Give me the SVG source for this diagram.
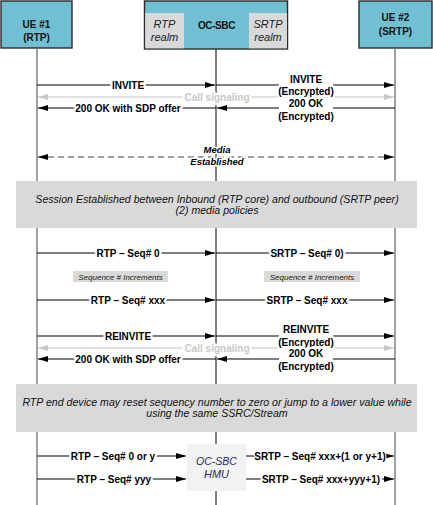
<svg xmlns="http://www.w3.org/2000/svg" width="433" height="505" viewBox="0 0 433 505">
<style>
.hdr{fill:#71bfd2;stroke:#2b2b2b;stroke-width:1.4}
.realm{fill:#d9d9d9}
.t{font-family:"Liberation Sans",Arial,sans-serif}
.hb{font-size:10px;font-weight:bold;fill:#111;text-anchor:middle}
.ri{font-size:11px;font-style:italic;fill:#222;text-anchor:middle}
.lbl{font-size:10px;font-weight:bold;fill:#000;text-anchor:middle;stroke:#fff;stroke-width:4.5;paint-order:stroke;stroke-linejoin:round}
.sig{font-size:10px;font-weight:bold;fill:#c8c8c8;text-anchor:middle;stroke:#fff;stroke-width:4.5;paint-order:stroke;stroke-linejoin:round}
.msg{stroke:#000;stroke-width:1;fill:none}
.sigl{stroke:#c8c8c8;stroke-width:1.2;fill:none}
.dash{stroke:#808080;stroke-width:1.5;stroke-dasharray:6 4;fill:none}
.note{fill:#d9d9d9}
.nt{font-size:10.6px;font-style:italic;fill:#111;text-anchor:middle}
.sm{font-size:8px;font-style:italic;fill:#222;text-anchor:middle}
.me{font-size:9.5px;font-style:italic;font-weight:bold;fill:#000;text-anchor:middle;stroke:#fff;stroke-width:3;paint-order:stroke}
.life{stroke:#6e6e6e;stroke-width:1.3}
</style>
<defs>
<marker id="ah" markerWidth="10" markerHeight="6" refX="10" refY="3" orient="auto" markerUnits="userSpaceOnUse">
<path d="M0,0 L10,3 L0,6 Z" fill="#000"/>
</marker>
<marker id="ahs" markerWidth="10" markerHeight="6" refX="0" refY="3" orient="auto" markerUnits="userSpaceOnUse">
<path d="M10,0 L0,3 L10,6 Z" fill="#000"/>
</marker>
<marker id="gh" markerWidth="10" markerHeight="6" refX="10" refY="3" orient="auto" markerUnits="userSpaceOnUse">
<path d="M0,0 L10,3 L0,6 Z" fill="#c8c8c8"/>
</marker>
<marker id="ghs" markerWidth="10" markerHeight="6" refX="0" refY="3" orient="auto" markerUnits="userSpaceOnUse">
<path d="M10,0 L0,3 L10,6 Z" fill="#c8c8c8"/>
</marker>
</defs>

<g id="lifelines">
<line class="life" x1="37" y1="49" x2="37" y2="505"/>
<line x1="216" y1="49" x2="216" y2="505" stroke="#000" stroke-width="1"/>
<line class="life" x1="395" y1="49" x2="395" y2="505"/>
</g>

<g id="ue1">
<rect class="hdr" x="1" y="1" width="71" height="47"/>
<text class="t hb" x="36.5" y="28">UE #1</text>
<text class="t hb" x="36.5" y="41">(RTP)</text>
</g>

<g id="ocsbc">
<rect class="hdr" x="144.5" y="1" width="143" height="48"/>
<rect class="realm" x="145.2" y="13" width="38.8" height="35.3"/>
<rect class="realm" x="249" y="13" width="38" height="35.3"/>
<text class="t ri" x="164.5" y="28">RTP</text>
<text class="t ri" x="164.5" y="41">realm</text>
<text class="t ri" x="268" y="28">SRTP</text>
<text class="t ri" x="268" y="41">realm</text>
<text class="t hb" x="216.5" y="29" letter-spacing="-0.4">OC-SBC</text>
</g>

<g id="ue2">
<rect class="hdr" x="359" y="1" width="73" height="47"/>
<text class="t hb" x="395.5" y="21">UE #2</text>
<text class="t hb" x="395.5" y="35">(SRTP)</text>
</g>

<g id="connectors">
<line class="msg" x1="37" y1="85" x2="215" y2="85" marker-end="url(#ah)"/>
<line class="msg" x1="216" y1="85" x2="394" y2="85" marker-end="url(#ah)"/>
<line class="sigl" x1="38" y1="97" x2="394" y2="97" marker-start="url(#ghs)" marker-end="url(#gh)"/>
<line class="msg" x1="395" y1="108" x2="217" y2="108" marker-end="url(#ah)"/>
<line class="msg" x1="216" y1="108" x2="38" y2="108" marker-end="url(#ah)"/>
<line class="dash" x1="38" y1="157" x2="394" y2="157" marker-start="url(#ahs)" marker-end="url(#ah)"/>
<line class="msg" x1="37" y1="253" x2="215" y2="253" marker-end="url(#ah)"/>
<line class="msg" x1="216" y1="253" x2="394" y2="253" marker-end="url(#ah)"/>
<line class="msg" x1="37" y1="300" x2="215" y2="300" marker-end="url(#ah)"/>
<line class="msg" x1="216" y1="300" x2="394" y2="300" marker-end="url(#ah)"/>
<line class="msg" x1="37" y1="336" x2="215" y2="336" marker-end="url(#ah)"/>
<line class="msg" x1="216" y1="336" x2="394" y2="336" marker-end="url(#ah)"/>
<line class="sigl" x1="38" y1="348" x2="394" y2="348" marker-start="url(#ghs)" marker-end="url(#gh)"/>
<line class="msg" x1="395" y1="359" x2="217" y2="359" marker-end="url(#ah)"/>
<line class="msg" x1="216" y1="359" x2="38" y2="359" marker-end="url(#ah)"/>
<line class="msg" x1="37" y1="456" x2="186" y2="456" marker-end="url(#ah)"/>
<line class="msg" x1="246" y1="456" x2="394" y2="456" marker-end="url(#ah)"/>
<line class="msg" x1="37" y1="479" x2="186" y2="479" marker-end="url(#ah)"/>
<line class="msg" x1="246" y1="479" x2="394" y2="479" marker-end="url(#ah)"/>
</g>

<g id="labels">
<text class="t lbl" x="128" y="88.5">INVITE</text>
<rect x="279" y="74" width="54" height="23" fill="#fff"/>
<text class="t lbl" x="306" y="82.5">INVITE</text>
<text class="t lbl" x="306" y="94.5">(Encrypted)</text>
<text class="t sig" x="217" y="100.5">Call signaling</text>
<text class="t lbl" x="128" y="111.5">200 OK with SDP offer</text>
<rect x="279" y="98" width="54" height="23" fill="#fff"/>
<text class="t lbl" x="306" y="106.5">200 OK</text>
<text class="t lbl" x="306" y="119.5">(Encrypted)</text>

<text class="t me" x="217" y="153">Media</text>
<text class="t me" x="217" y="165">Established</text>

<text class="t lbl" x="128" y="256.5">RTP – Seq# 0</text>
<text class="t lbl" x="307" y="256.5">SRTP – Seq# 0)</text>
<text class="t lbl" x="128" y="303.5">RTP – Seq# xxx</text>
<text class="t lbl" x="307" y="303.5">SRTP – Seq# xxx</text>

<text class="t lbl" x="128" y="339.5">REINVITE</text>
<rect x="279" y="324" width="54" height="23" fill="#fff"/>
<text class="t lbl" x="306" y="332.5">REINVITE</text>
<text class="t lbl" x="306" y="345.5">(Encrypted)</text>
<text class="t sig" x="217" y="351.5">Call signaling</text>
<text class="t lbl" x="128" y="362.5">200 OK with SDP offer</text>
<rect x="279" y="349" width="54" height="23" fill="#fff"/>
<text class="t lbl" x="306" y="356.5">200 OK</text>
<text class="t lbl" x="306" y="369.5">(Encrypted)</text>

<text class="t lbl" x="113" y="459.5">RTP – Seq# 0 or y</text>
<rect x="256" y="451" width="128" height="10" fill="#fff"/>
<text class="t lbl" x="320" y="459.5" style="stroke-width:2">SRTP – Seq# xxx+(1 or y+1)</text>
<text class="t lbl" x="114" y="482.5">RTP – Seq# yyy</text>
<text class="t lbl" x="321" y="482.5">SRTP – Seq# xxx+yyy+1)</text>
</g>

<g id="note-session">
<rect class="note" x="16" y="181" width="401" height="47"/>
<text class="t nt" x="217" y="202.5">Session Established between Inbound (RTP core) and outbound (SRTP peer)</text>
<text class="t nt" x="217" y="214">(2) media policies</text>
</g>

<g id="seq-inc-left">
<rect class="note" x="73" y="271" width="95" height="11"/>
<text class="t sm" x="120.5" y="279.5">Sequence # Increments</text>
</g>
<g id="seq-inc-right">
<rect class="note" x="264" y="271" width="96" height="11"/>
<text class="t sm" x="312" y="279.5">Sequence # Increments</text>
</g>

<g id="note-reset">
<rect class="note" x="16" y="384" width="401" height="48"/>
<text class="t nt" x="217" y="405.5">RTP end device may reset sequency number to zero or jump to a lower value while</text>
<text class="t nt" x="217" y="417">using the same SSRC/Stream</text>
</g>

<g id="hmu">
<rect x="187" y="444" width="59" height="47" fill="#f2f2f2"/>
<text class="t ri" x="216.5" y="464.5" style="fill:#1f2f55;font-size:10.5px">OC-SBC</text>
<text class="t ri" x="216.5" y="478" style="fill:#1f2f55">HMU</text>
</g>
</svg>
